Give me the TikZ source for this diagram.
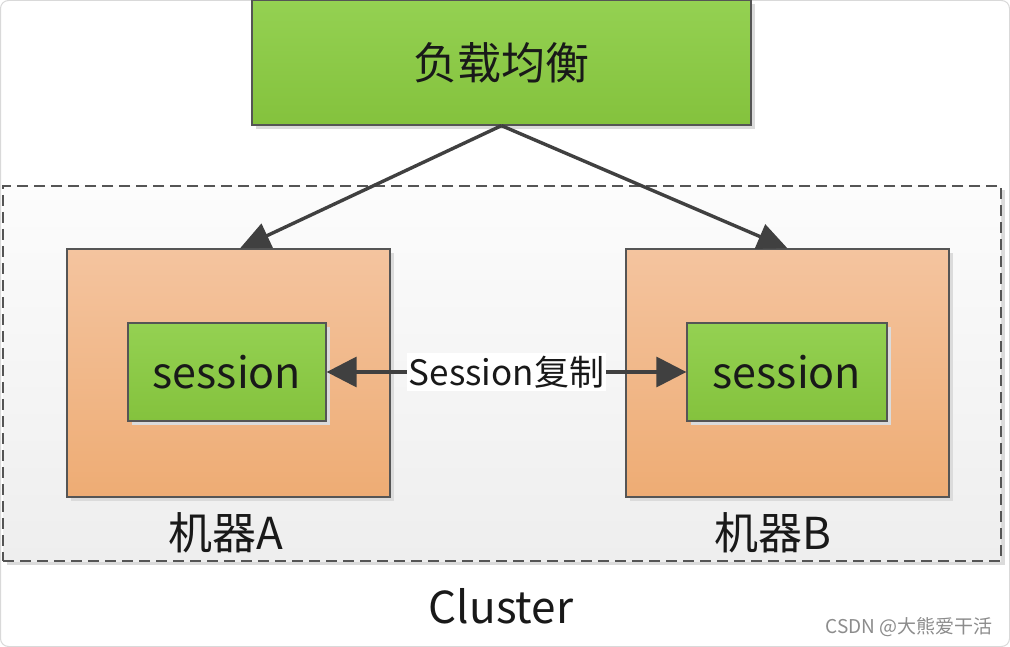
\documentclass[tikz,border=0pt]{standalone}
\usepackage{fontspec}
\setmainfont{Noto Sans CJK SC}
\usetikzlibrary{arrows.meta,shadows}
\definecolor{gtop}{HTML}{94D152}
\definecolor{gbot}{HTML}{84C23D}
\definecolor{otop}{HTML}{F4C49F}
\definecolor{obot}{HTML}{EEAC74}
\definecolor{ctop}{HTML}{FCFCFC}
\definecolor{cbot}{HTML}{EEEEEE}
\definecolor{edge}{HTML}{555555}
\definecolor{arr}{HTML}{404040}
\begin{document}
\begin{tikzpicture}[x=1pt,y=-1pt,
  shadowed/.style={drop shadow={shadow xshift=4pt,shadow yshift=-4pt,fill=black!14,opacity=1}},
  greenbox/.style={shadowed,draw=edge,line width=1.3pt,top color=gtop,bottom color=gbot,inner sep=0pt,text=black!90},
  machbox/.style={shadowed,draw=edge,line width=1.3pt,top color=otop,bottom color=obot,inner sep=0pt},
  clusterbox/.style={shadowed,draw=edge,line width=1.3pt,dash pattern=on 11pt off 6pt,top color=ctop,bottom color=cbot,inner sep=0pt},
  conn/.style={draw=arr,line width=3.4pt,-{Triangle[length=30pt,width=26pt]}},
  lbl/.style={text=black!90,inner sep=0pt}]
\useasboundingbox (0,0) rectangle (1010,647);
\draw[black!15,line width=1pt,rounded corners=8pt,fill=white] (0.5,0.5) rectangle (1009.5,646.5);
\node[clusterbox,minimum width=998pt,minimum height=375pt] (cl) at (502,373.5) {};
\node[greenbox,minimum width=499pt,minimum height=125pt,font=\fontsize{44}{52}\selectfont] (lb) at (501.5,62.5) {\raisebox{1.5pt}{负载均衡}};
\node[machbox,minimum width=323pt,minimum height=248pt] (ma) at (228.5,373) {};
\node[machbox,minimum width=323pt,minimum height=248pt] (mb) at (787.5,373) {};
\node[greenbox,minimum width=198pt,minimum height=98pt,font=\fontsize{43}{50}\selectfont] (sa) at (227,372) {session};
\node[greenbox,minimum width=200pt,minimum height=98pt,font=\fontsize{43}{50}\selectfont] (sb) at (787,372) {session};
\node[lbl,font=\fontsize{44}{52}\selectfont] (la) at (226,533) {机器A};
\node[lbl,font=\fontsize{44}{52}\selectfont] (lbB) at (773,533) {机器B};
\node[lbl,font=\fontsize{44}{52}\selectfont] (clt) at (501,606) {Cluster};
\node[text=black!45,inner sep=0pt,font=\fontsize{19}{23}\selectfont] (wm) at (909,627) {CSDN @大熊爱干活};
\draw[conn] (lb.south) -- ([xshift=11.5pt]ma.north);
\draw[conn] (lb.south) -- (mb.north);
\draw[draw=arr,line width=3.4pt,{Triangle[length=30pt,width=30pt]}-{Triangle[length=30pt,width=30pt]}] (sa.east) -- (sb.west)
  node[midway,fill=white,inner xsep=2pt,inner ysep=3pt,text=black!90,font=\fontsize{35}{42}\selectfont] (st) {Session复制};
\end{tikzpicture}
\end{document}
